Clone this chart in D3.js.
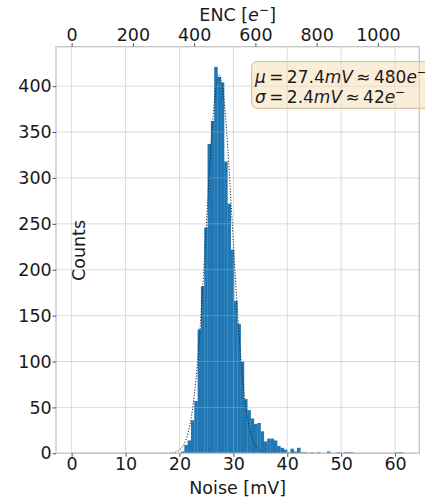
<!DOCTYPE html>
<html>
<head>
<meta charset="utf-8">
<script src="https://cdn.jsdelivr.net/npm/d3@7"></script>
<style>
  body { margin: 0; background: #fff; }
  svg { display: block; }
  text { font-family: "DejaVu Sans", sans-serif; fill: #1a1a1a; }
</style>
</head>
<body>
<svg id="chart" width="425" height="497"></svg>
<script>
// Histogram of pixel noise: 100 bins of equal width starting at binStart (mV)
const binStart = 0;
const binWidth = 0.615;
const counts = [
  0, 0, 0, 0, 0, 0, 0, 0, 0, 0,
  0, 0, 0, 0, 0, 0, 0, 0, 0, 0,
  0, 0, 0, 0, 0, 0, 0, 0, 0, 0,
  0, 0, 0, 2, 9, 14, 36, 57, 135, 182,
  246, 337, 362, 421, 410, 404, 318, 272, 222, 166,
  141, 100, 59, 47, 38, 32, 33, 24, 13, 16,
  16, 14, 8, 6, 4, 1, 5, 2, 6, 1,
  1, 0, 1, 0, 1, 0, 0, 2, 0, 0,
  1, 0, 1, 1, 1, 0, 0, 0, 0, 0,
  0, 0, 0, 0, 0, 0, 0, 0, 1, 1
];

// Gaussian fit parameters
const fitMu = 27.4;       // mV
const fitSigma = 2.4;     // mV
const fitPeak = 412;      // counts at the mean
const fitRange = [0, 61.5];

// ENC conversion (electrons per mV)
const encPerMv = 17.6;
const muEnc = 480;
const sigmaEnc = 42;

// Axis ticks
const xTicks = [0, 10, 20, 30, 40, 50, 60];
const yTicks = [0, 50, 100, 150, 200, 250, 300, 350, 400];
const encTicks = [0, 200, 400, 600, 800, 1000];

const plot = { left: 56, right: 419.3, top: 46.7, bottom: 453.3 };
const fontSize = 17.5;
const boxFontSize = 17;

const svg = d3.select("#chart");

const x = d3.scaleLinear().domain([-2.9, 64.5]).range([plot.left, plot.right]);
const y = d3.scaleLinear().domain([0, 443]).range([plot.bottom, plot.top]);
const xEnc = d3.scaleLinear()
  .domain(x.domain().map(v => v * encPerMv))
  .range(x.range());

// Bars
const bins = counts.map((c, i) => ({ x0: binStart + i * binWidth, x1: binStart + (i + 1) * binWidth, c }));
svg.append("g").selectAll("rect")
  .data(bins.filter(b => b.c > 0))
  .join("rect")
  .attr("x", d => x(d.x0))
  .attr("width", d => x(d.x1) - x(d.x0) + 0.2)
  .attr("y", d => y(d.c))
  .attr("height", d => y(0) - y(d.c))
  .attr("fill", "#1f77b4");

// Grid (drawn above the bars)
const grid = svg.append("g")
  .attr("stroke", "#b0b0b0")
  .attr("stroke-opacity", 0.45)
  .attr("stroke-width", 1);
grid.selectAll(".gx").data(xTicks).join("line")
  .attr("x1", d => x(d)).attr("x2", d => x(d))
  .attr("y1", plot.top).attr("y2", plot.bottom);
grid.selectAll(".gy").data(yTicks).join("line")
  .attr("x1", plot.left).attr("x2", plot.right)
  .attr("y1", d => y(d)).attr("y2", d => y(d));

// Gaussian fit curve
const fitPts = d3.range(fitRange[0], fitRange[1] + 0.001, 0.05)
  .map(v => [v, fitPeak * Math.exp(-0.5 * ((v - fitMu) / fitSigma) ** 2)]);
svg.append("path")
  .datum(fitPts)
  .attr("fill", "none")
  .attr("stroke", "#222")
  .attr("stroke-width", 1)
  .attr("stroke-dasharray", "1.2,1.6")
  .attr("d", d3.line().x(d => x(d[0])).y(d => y(d[1])));

// Frame
svg.append("rect")
  .attr("x", plot.left).attr("y", plot.top)
  .attr("width", plot.right - plot.left).attr("height", plot.bottom - plot.top)
  .attr("fill", "none").attr("stroke", "#c4c4c4").attr("stroke-width", 1.3);

function styleAxis(g) {
  g.select(".domain").remove();
  g.selectAll(".tick line").attr("stroke", "#555").attr("stroke-width", 1);
  g.selectAll(".tick text")
    .attr("font-size", fontSize)
    .attr("font-family", "DejaVu Sans, sans-serif")
    .attr("fill", "#1a1a1a");
}

svg.append("g")
  .attr("transform", `translate(0,${plot.bottom})`)
  .call(d3.axisBottom(x).tickValues(xTicks).tickFormat(d3.format("d")).tickSize(3.5).tickPadding(0.8))
  .call(styleAxis);

svg.append("g")
  .attr("transform", `translate(${plot.left},0)`)
  .call(d3.axisLeft(y).tickValues(yTicks).tickFormat(d3.format("d")).tickSize(3.5).tickPadding(0.8))
  .call(styleAxis);

svg.append("g")
  .attr("transform", `translate(0,${plot.top})`)
  .call(d3.axisTop(xEnc).tickValues(encTicks).tickFormat(d3.format("d")).tickSize(3.5).tickPadding(2.7))
  .call(styleAxis);

// Axis labels
svg.append("text")
  .attr("x", (plot.left + plot.right) / 2).attr("y", 494)
  .attr("text-anchor", "middle").attr("font-size", fontSize)
  .text("Noise [mV]");

const encLabel = svg.append("text")
  .attr("x", (plot.left + plot.right) / 2).attr("y", 20.7)
  .attr("text-anchor", "middle").attr("font-size", fontSize);
encLabel.append("tspan").text("ENC [");
encLabel.append("tspan").attr("font-style", "italic").text("e");
encLabel.append("tspan").attr("font-size", fontSize * 0.7).attr("dy", -7).text("\u2212");
encLabel.append("tspan").attr("dy", 7).text("]");

svg.append("text")
  .attr("transform", "translate(85,250.5) rotate(-90)")
  .attr("text-anchor", "middle").attr("font-size", fontSize)
  .text("Counts");

// Fit result box
const box = svg.append("g");
box.append("rect")
  .attr("x", 251.7).attr("y", 61.7)
  .attr("width", 200).attr("height", 46.6)
  .attr("rx", 5)
  .attr("fill", "#f5deb3").attr("fill-opacity", 0.5)
  .attr("stroke", "#cdbd9f").attr("stroke-width", 1);

const statLines = [
  { sym: "\u03bc", mv: fitMu, enc: muEnc },
  { sym: "\u03c3", mv: fitSigma, enc: sigmaEnc }
];
statLines.forEach((s, i) => {
  const t = box.append("text")
    .attr("x", 255).attr("y", 83.3 + i * 20)
    .attr("font-size", boxFontSize);
  t.append("tspan").attr("font-style", "italic").text(s.sym);
  t.append("tspan").text(`\u2009=\u2009${s.mv}`);
  t.append("tspan").attr("font-style", "italic").text("mV");
  t.append("tspan").text(`\u2009\u2248\u2009${s.enc}`);
  t.append("tspan").attr("font-style", "italic").text("e");
  t.append("tspan").attr("font-size", boxFontSize * 0.7).attr("dy", -7).text("\u2212");
});
</script>
</body>
</html>
